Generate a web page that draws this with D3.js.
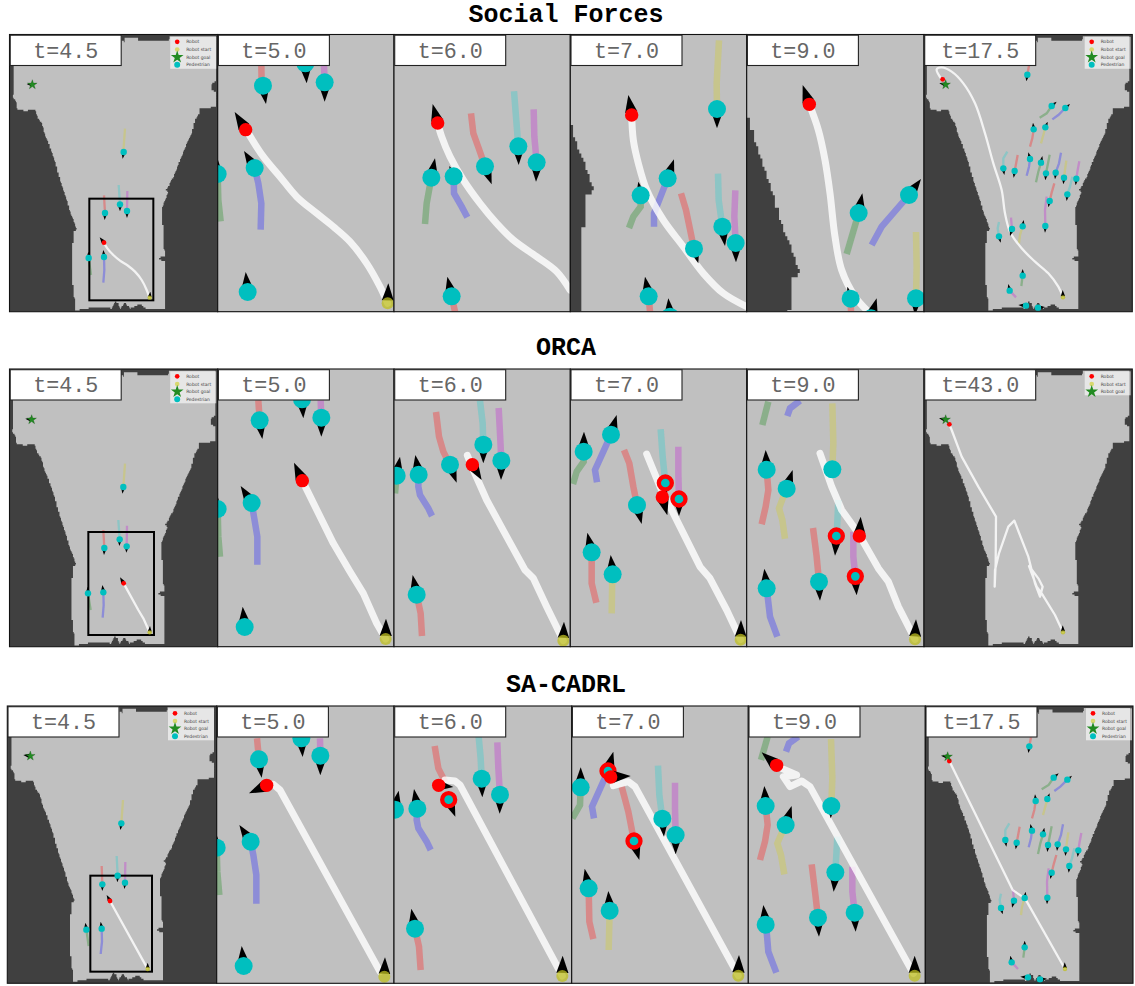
<!DOCTYPE html>
<html><head><meta charset="utf-8">
<script src="https://cdn.jsdelivr.net/npm/d3@7"></script>
<style>html,body{margin:0;padding:0;background:#fff}svg{display:block}</style>
</head><body><svg id="c" width="1135" height="986"></svg>
<script>
// ---------- labels ----------
const methodNames=["Social Forces","ORCA","SA-CADRL"];
const timeLabels=[["t=4.5","t=5.0","t=6.0","t=7.0","t=9.0","t=17.5"],["t=4.5","t=5.0","t=6.0","t=7.0","t=9.0","t=43.0"],["t=4.5","t=5.0","t=6.0","t=7.0","t=9.0","t=17.5"]];
const legendNames=["Robot","Robot start","Robot goal","Pedestrian"];
// ---------- free space outline of the map (map units) ----------
const mapOutline=[[42,103],[42,196],[40,240],[38,290],[48,305],[52,328],[75,332],[105,328],[112,350],[125,370],[130,390],[145,430],[158,465],[170,505],[180,540],[195,585],[212,640],[222,665],[231,690],[220,692],[220,720],[215,745],[215,830],[222,880],[225,932],[260,925],[300,923],[335,925],[345,905],[355,910],[360,925],[375,908],[390,925],[420,912],[440,928],[495,925],[493,850],[495,785],[478,778],[480,770],[493,768],[492,700],[487,665],[486,625],[495,600],[505,575],[495,570],[505,560],[520,530],[545,470],[560,430],[575,400],[585,360],[597,340],[600,325],[650,320],[650,275],[636,270],[636,250],[650,240],[650,108],[510,108],[505,120],[415,122],[413,112],[375,112],[372,125],[365,122],[362,103]];
// ---------- views of the map for each panel [x0,x1,y0,y1] ----------
const mapViews=[
[[28,653,103,935],[268,460,596,901],[247,439,555,860],[204,396,517,822],[172,364,426,731],[32,657,103,935]],
[[30,655,103,935],[267,464,591,900],[267,464,591,900],[267,464,591,900],[267,464,591,900],[32,657,103,935]],
[[28,656,104,936],[277,462,613,901],[277,462,613,901],[277,462,613,901],[277,462,613,901],[30,657,102,934]]];
// ---------- Social Forces ----------
const sf1Robot=[312,728,299,712],sf1Start=[449,893,451,875],sf1Goal=[97,254,80,252],sf1Box=[268,596,460,901];
const sf1Path=[[448,892],[440,870],[425,840],[405,815],[385,798],[360,782],[340,765],[322,745],[312,728]];
const sf1Peds=[[371,456,368,476],[315,639,314,660],[360,613,360,634],[381,633,381,654],[266,774,265,755],[312,771,310,750]];
const sf1Trails=[["y",[[375,386],[370,456]]],["r",[[312,586],[315,639]]],["t",[[356,555],[360,613]]],["p",[[382,573],[381,633]]],["g",[[273,825],[266,774]]],["b",[[310,848],[313,810],[312,771]]]];
const sf2Robot=[737,389,704,336],sf2Start=[1163,910,1165,850];
const sf2Path=[[1163,910],[1140,860],[1100,790],[1050,725],[1000,680],[950,640],[890,590],[840,530],[790,470],[745,400]];
const sf2Peds=[[789,257,798,312],[916,190,920,250],[974,247,974,305],[653,522,654,480],[764,504,732,453],[743,876,737,816]];
const sf2Trails=[["r",[[784,196],[785,257]]],["p",[[972,196],[974,247]]],["b",[[782,689],[784,610],[775,550],[764,504]]],["g",[[662,664],[655,600],[653,522]]]];
const sf3Robot=[143,369,128,312];
const sf3Path=[[540,870],[500,815],[440,770],[370,720],[320,670],[270,610],[220,540],[180,470],[155,410],[143,369]];
const sf3Peds=[[124,533,135,475],[191,529,178,498],[285,499,305,553],[385,439,386,495],[440,487,438,545],[185,889,172,830]];
const sf3Trails=[["g",[[105,672],[110,610],[124,533]]],["b",[[232,652],[215,620],[192,580],[191,529]]],["r",[[243,340],[250,400],[268,450],[285,499]]],["t",[[372,274],[378,350],[385,439]]],["p",[[431,328],[433,410],[440,487]]],["r",[[195,935],[185,889]]]];
const sf4Robot=[725,345,715,285];
const sf4Path=[[1070,920],[1000,880],[940,820],[880,740],[820,660],[770,570],[745,490],[730,420],[725,345]];
const sf4Peds=[[752,586,745,545],[833,535,852,478],[912,746,925,790],[997,680,1005,738],[1037,729,1038,787],[981,327,981,385],[776,889,765,830],[840,950,835,895]];
const sf4Trails=[["g",[[717,684],[730,650],[752,620],[752,586]]],["b",[[792,680],[792,640],[833,535]]],["r",[[873,580],[888,630],[912,746]]],["t",[[984,521],[986,600],[997,680]]],["p",[[1036,571],[1033,650],[1037,729]]],["y",[[987,121],[980,250],[981,327]]],["r",[[780,935],[776,889]]]];
const sf5Robot=[193,313,173,255];
const sf5Path=[[370,935],[330,890],[290,810],[270,710],[255,580],[240,480],[220,390],[193,313]];
const sf5Peds=[[341,639,352,580],[492,585,528,537],[317,896,307,860],[378,955,395,895],[513,895,510,945]];
const sf5Trails=[["g",[[305,762],[341,639]]],["b",[[380,735],[410,680],[492,585]]],["y",[[513,696],[515,800],[513,895]]],["r",[[318,935],[317,896]]]];
const sf6Robot=[593,238,590,230],sf6Start=[954,892,953,870],sf6Goal=[602,254,583,250];
const sf6Path=[[954,892],[940,860],[910,820],[870,785],[830,745],[795,695],[780,640],[770,570],[745,490],[720,400],[690,310],[655,250],[620,215],[590,202],[575,208],[590,238]];
const crowdPeds=[[847,224,844,244],[920,318,935,305],[961,324,975,312],[866,388,864,368],[901,382,908,365],[775,505,778,525],[809,513,806,533],[855,477,850,457],[888,488,892,468],[903,520,901,541],[932,518,930,538],[957,533,955,553],[994,536,992,556],[967,583,965,603],[914,603,910,622],[901,678,900,698],[762,709,767,728],[801,687,795,708],[833,679,836,660],[833,827,833,807],[794,872,790,852],[843,917,820,915],[879,923,900,921]];
const crowdTrails=[["r",[[852,197],[847,224]]],["g",[[884,353],[905,340],[920,318]]],["b",[[922,358],[940,345],[961,324]]],["r",[[855,440],[862,415],[866,388]]],["y",[[888,430],[895,405],[901,382]]],["t",[[787,455],[775,475],[775,505]]],["r",[[818,465],[809,513]]],["b",[[845,527],[852,500],[855,477]]],["g",[[873,547],[880,515],[888,488]]],["g",[[914,464],[908,495],[903,520]]],["b",[[948,458],[942,490],[932,518]]],["y",[[964,482],[960,510],[957,533]]],["p",[[1003,484],[998,510],[994,536]]],["t",[[982,530],[975,560],[967,583]]],["r",[[928,550],[920,578],[914,603]]],["p",[[905,590],[900,630],[901,678]]],["t",[[762,666],[758,685],[762,709]]],["p",[[798,653],[801,687]]],["y",[[822,730],[825,705],[833,679]]],["g",[[829,858],[833,827]]],["p",[[813,892],[794,872]]]];
// ---------- ORCA ----------
const or1Robot=[371,760,360,742],or1Start=[449,907,450,888],or1Goal=[95,269,76,266],or1Box=[265,606,462,915];
const or1Path=[[448,905],[430,865],[415,840],[371,760]];
const or1Peds=[[370,471,367,491],[313,654,312,675],[359,628,358,648],[380,649,379,668],[264,790,263,770],[310,787,307,765]];
const or1Trails=[["y",[[375,401],[370,471]]],["r",[[310,600],[313,654]]],["t",[[355,570],[359,628]]],["p",[[381,587],[380,649]]],["g",[[272,840],[264,790]]],["b",[[308,863],[311,825],[310,787]]]];
const or2Robot=[907,452,882,398],or2Start=[1157,927,1158,866];
const or2Path=[[1157,927],[1130,880],[1090,790],[1050,725],[1000,640],[907,452]];
const or2Peds=[[779,271,787,327],[906,208,910,265],[964,263,964,320],[653,537,653,500],[755,519,722,468],[734,891,728,830]];
const or2Trails=[["r",[[775,211],[779,271]]],["p",[[962,211],[964,263]]],["b",[[772,704],[772,620],[762,560],[755,519]]],["g",[[660,680],[655,620],[653,537]]]];
const or3Robot=[247,404,275,450],or3Start=[520,932,522,875];
const or3Path=[[520,932],[470,830],[430,745],[405,720],[350,620],[290,510],[250,420],[232,376]];
const or3Peds=[[180,404,200,458],[280,344,280,400],[334,392,333,450],[20,437,30,380],[86,434,76,375],[80,794,68,735]];
const or3Trails=[["r",[[138,246],[147,320],[160,365],[180,404]]],["t",[[270,212],[278,280],[280,344]]],["p",[[326,234],[330,310],[334,392]]],["b",[[126,558],[115,535],[90,495],[85,470],[86,434]]],["r",[[96,918],[92,850],[80,794]]],["g",[[15,490],[20,437]]]];
const or4Robot=[817,501,832,556],or4Start=[1052,929,1053,870];
const or4Path=[[1052,929],[1010,840],[960,745],[930,710],[870,590],[810,470],[770,372]];
const or4Peds=[[741,525,755,582],[663,314,680,255],[581,365,582,305],[605,667,592,608],[668,733,662,675]];
const or4Rings=[[826,459,826,500],[867,507,867,558]];
const or4Trails=[["r",[[702,360],[718,400],[730,470],[741,525]]],["t",[[812,298],[818,380],[826,459]]],["p",[[865,350],[865,430],[867,507]]],["g",[[549,462],[560,425],[581,395],[581,365]]],["b",[[621,457],[615,420],[663,314]]],["r",[[619,818],[605,760],[605,667]]],["y",[[665,850],[667,733]]]];
const or5Robot=[343,618,347,560],or5Start=[510,928,513,868];
const or5Path=[[510,928],[460,830],[430,755],[400,715],[340,610],[290,540],[260,470],[225,370]];
const or5Peds=[[65,419,62,360],[125,476,143,420],[262,418,262,430],[222,755,225,812],[65,775,58,716]];
const or5Rings=[[274,618,270,677],[331,739,335,796]];
const or5Trails=[["g",[[52,285],[70,215]]],["b",[[127,258],[135,235],[165,212]]],["y",[[262,220],[265,340],[262,418]]],["r",[[50,583],[62,530],[70,480],[65,419]]],["y",[[120,626],[112,570],[102,535],[115,500],[125,476]]],["t",[[280,510],[275,618]]],["r",[[204,594],[215,680],[222,755]]],["p",[[325,605],[325,680],[331,739]]],["b",[[97,920],[75,860],[68,800],[65,775]]]];
const or6Robot=[613,283,612,278],or6Start=[954,907,953,886],or6Goal=[602,269,582,265];
const or6Path=[[954,907],[930,855],[890,790],[875,770],[852,708],[880,745],[893,770],[885,800],[870,760],[850,680],[808,572],[790,590],[762,670],[750,720],[749,770],[752,700],[753,560],[700,470],[650,380],[620,300],[613,283]];
// ---------- SA-CADRL ----------
const sa1Robot=[330,708,320,690],sa1Start=[443,912,443,893],sa1Goal=[91,273,70,270],sa1Box=[271,632,456,920];
const sa1Path=[[442,910],[330,708]];
const sa1Peds=[[364,475,361,495],[307,658,307,678],[353,632,352,652],[375,653,373,672],[259,794,256,773],[305,791,302,770]];
const sa1Trails=[["y",[[369,405],[364,475]]],["r",[[305,603],[307,658]]],["t",[[350,573],[353,632]]],["p",[[376,591],[375,653]]],["g",[[266,843],[259,794]]],["b",[[302,867],[306,830],[305,791]]]];
const sa2Robot=[800,361,747,385],sa2Start=[1153,935,1155,877];
const sa2Path=[[1140,920],[840,375],[820,358],[800,358]];
const sa2Peds=[[777,283,785,338],[904,220,908,276],[961,272,961,331],[650,548,650,510],[752,530,718,480],[731,903,725,843]];
const sa2Trails=[["r",[[771,220],[777,283]]],["p",[[960,220],[961,272]]],["b",[[769,716],[769,630],[760,570],[752,530]]],["g",[[658,690],[652,620],[650,548]]]];
const sa3Robot=[146,361,190,366],sa3Start=[517,933,518,872];
const sa3Path=[[517,933],[210,360],[195,348],[165,345]];
const sa3Peds=[[275,341,277,397],[330,389,329,446],[15,434,26,377],[82,431,72,372],[75,791,64,731]];
const sa3Rings=[[176,404,196,455]];
const sa3Trails=[["r",[[134,243],[145,310],[165,350]]],["t",[[266,215],[272,280],[275,341]]],["p",[[322,232],[325,310],[330,389]]],["b",[[122,555],[110,530],[85,490],[80,465],[82,431]]],["r",[[92,915],[87,845],[75,791]]]];
const sa4Robot=[662,336,722,333],sa4Start=[1045,932,1047,870];
const sa4Path=[[1045,932],[735,365],[715,350],[670,362]];
const sa4Peds=[[817,461,822,515],[857,510,857,568],[572,367,572,307],[596,670,584,611],[659,737,655,678]];
const sa4Rings=[[654,318,670,260],[732,528,748,585]];
const sa4Trails=[["r",[[695,365],[715,440],[732,528]]],["t",[[804,302],[808,390],[817,461]]],["p",[[855,353],[855,430],[857,510]]],["g",[[547,460],[570,420],[572,367]]],["b",[[612,460],[606,425],[654,318]]],["r",[[610,822],[598,770],[596,670]]],["y",[[656,855],[659,737]]]];
const sa5Robot=[95,301,50,262],sa5Start=[509,932,509,872];
const sa5Path=[[505,925],[195,365],[170,348],[135,365],[115,335],[155,330],[110,310]];
const sa5Peds=[[62,423,58,363],[122,480,140,423],[259,423,257,460],[271,622,266,680],[219,758,222,815],[329,743,332,800],[62,779,55,720]];
const sa5Trails=[["g",[[48,285],[68,215]]],["b",[[123,260],[132,235],[160,215]]],["y",[[258,222],[262,340],[259,423]]],["r",[[45,585],[60,530],[68,480],[62,423]]],["y",[[118,628],[108,570],[97,535],[112,500],[122,480]]],["t",[[277,515],[271,622]]],["r",[[200,598],[210,680],[219,758]]],["p",[[322,605],[322,680],[329,743]]],["b",[[94,923],[70,860],[65,800],[62,779]]]];
const sa6Robot=[607,268,606,263],sa6Start=[954,892,953,872],sa6Goal=[602,255,582,252];
const sa6Path=[[954,892],[834,680],[804,660],[797,655],[607,268]];

// ---------- assemble panels ----------
const rowsData=[
[{r:sf1Robot,s:sf1Start,g:sf1Goal,b:sf1Box,path:sf1Path,peds:sf1Peds,trails:sf1Trails},
 {r:sf2Robot,s:sf2Start,path:sf2Path,peds:sf2Peds,trails:sf2Trails},
 {r:sf3Robot,path:sf3Path,peds:sf3Peds,trails:sf3Trails},
 {r:sf4Robot,path:sf4Path,peds:sf4Peds,trails:sf4Trails},
 {r:sf5Robot,path:sf5Path,peds:sf5Peds,trails:sf5Trails},
 {r:sf6Robot,s:sf6Start,g:sf6Goal,path:sf6Path,peds:crowdPeds,trails:crowdTrails}],
[{r:or1Robot,s:or1Start,g:or1Goal,b:or1Box,path:or1Path,peds:or1Peds,trails:or1Trails},
 {r:or2Robot,s:or2Start,path:or2Path,peds:or2Peds,trails:or2Trails},
 {r:or3Robot,s:or3Start,path:or3Path,peds:or3Peds,trails:or3Trails},
 {r:or4Robot,s:or4Start,path:or4Path,peds:or4Peds,rings:or4Rings,trails:or4Trails},
 {r:or5Robot,s:or5Start,path:or5Path,peds:or5Peds,rings:or5Rings,trails:or5Trails},
 {r:or6Robot,s:or6Start,g:or6Goal,path:or6Path,peds:[],trails:[],noPed:true}],
[{r:sa1Robot,s:sa1Start,g:sa1Goal,b:sa1Box,path:sa1Path,peds:sa1Peds,trails:sa1Trails},
 {r:sa2Robot,s:sa2Start,path:sa2Path,peds:sa2Peds,trails:sa2Trails},
 {r:sa3Robot,s:sa3Start,path:sa3Path,peds:sa3Peds,rings:sa3Rings,trails:sa3Trails},
 {r:sa4Robot,s:sa4Start,path:sa4Path,peds:sa4Peds,rings:sa4Rings,trails:sa4Trails},
 {r:sa5Robot,s:sa5Start,path:sa5Path,peds:sa5Peds,trails:sa5Trails},
 {r:sa6Robot,s:sa6Start,g:sa6Goal,path:sa6Path,peds:crowdPeds,trails:crowdTrails,shift:[6,20]}]];

// ---------- layout (pixels) ----------
const colEdges=[[9.5,217.7,394,570.3,746.7,924,1132.3],[9.5,217.7,394,570.3,746.7,924,1132.3],[7.3,216.7,394,571.7,748.3,925.3,1133]];
const rowTops=[34.5,369,706],rowBottoms=[311.7,646.7,983.3],cropY=[0,330,665],cropX=[0,0,390,390,745,745];
const titleY=[22,355,692];
const trailColor={r:"rgb(237,81,81)",b:"rgb(89,89,237)",g:"rgb(85,157,85)",y:"rgb(205,201,89)",t:"rgb(89,201,201)",p:"rgb(193,89,205)"};

const svg=d3.select("#c");
methodNames.forEach((n,i)=>svg.append("text").attr("x",566).attr("y",titleY[i]).attr("text-anchor","middle")
  .attr("font-family","'Liberation Mono',monospace").attr("font-weight",700).attr("font-size",25).text(n));

function snapped(pts,xs,ys){ // pixelated occupancy-grid edge
  const g=4.5,out=[];
  for(let i=0;i<pts.length;i++){const a=pts[i],b=pts[(i+1)%pts.length];
    const n=Math.max(1,Math.ceil(Math.hypot(b[0]-a[0],b[1]-a[1])/4));
    for(let k=0;k<n;k++){const t=k/n;out.push([Math.round((a[0]+(b[0]-a[0])*t)/g)*g,Math.round((a[1]+(b[1]-a[1])*t)/g)*g]);}}
  return d3.line().x(d=>xs(d[0])).y(d=>ys(d[1])).curve(d3.curveStep)(out)+"Z";
}
function arrow(x,y,tx,ty){
  const dx=tx-x,dy=ty-y,len=Math.hypot(dx,dy)||1,ux=dx/len,uy=dy/len,b=len*.15,h=len*.3;
  return `M${tx},${ty}L${x+ux*b-uy*h},${y+uy*b+ux*h}L${x+ux*b+uy*h},${y+uy*b-ux*h}Z`;
}
rowsData.forEach((row,ri)=>row.forEach((p,ci)=>{
  const L=colEdges[ri][ci],R=colEdges[ri][ci+1],T=rowTops[ri],B=rowBottoms[ri];
  const full=ci===0||ci===5, sh=p.shift||[0,0];
  const v=mapViews[ri][ci];
  const mx=d3.scaleLinear().domain([v[0],v[1]]).range([L,R]), my=d3.scaleLinear().domain([v[2],v[3]]).range([T,B]);
  const x=d3.scaleLinear().domain([(L-cropX[ci])*3-sh[0],(R-cropX[ci])*3-sh[0]]).range([L,R]);
  const y=d3.scaleLinear().domain([(T-cropY[ri])*3-sh[1],(B-cropY[ri])*3-sh[1]]).range([T,B]);
  const sz=full?{ped:3.2,rob:2.4,st:2.2,trail:2.3,path:2.3,ring:[2.3,1.5]}:{ped:9,rob:6.7,st:6,trail:6.5,path:7,ring:[6.5,4.3]};
  const id=`cp${ri}${ci}`;
  svg.append("clipPath").attr("id",id).append("rect").attr("x",L).attr("y",T).attr("width",R-L).attr("height",B-T);
  const g=svg.append("g").attr("clip-path",`url(#${id})`);
  g.append("rect").attr("x",L).attr("y",T).attr("width",R-L).attr("height",B-T).attr("fill","#404040");
  g.append("path").attr("d",snapped(mapOutline,mx,my)).attr("fill","#c0c0c0");
  const smooth=d3.line().x(d=>x(d[0])).y(d=>y(d[1])).curve(ri===0?d3.curveCatmullRom.alpha(.5):d3.curveLinear);
  const poly=d3.line().x(d=>x(d[0])).y(d=>y(d[1]));
  g.selectAll(".tr").data(p.trails).join("path").attr("d",d=>poly(d[1])).attr("fill","none")
    .attr("stroke",d=>trailColor[d[0]]).attr("stroke-opacity",.5).attr("stroke-width",sz.trail);
  if(p.b) g.append("rect").attr("x",x(p.b[0])).attr("y",y(p.b[1])).attr("width",x(p.b[2])-x(p.b[0])).attr("height",y(p.b[3])-y(p.b[1]))
    .attr("fill","none").attr("stroke","#000").attr("stroke-width",2);
  g.append("path").attr("d",smooth(p.path)).attr("fill","none").attr("stroke","#fff").attr("stroke-opacity",.8)
    .attr("stroke-width",sz.path).attr("stroke-linecap","round").attr("stroke-linejoin","round");
  const all=p.peds.concat(p.rings||[]);
  g.selectAll(".ar").data(all).join("path").attr("d",d=>arrow(x(d[0]),y(d[1]),x(d[2]),y(d[3]))).attr("fill","#000");
  g.selectAll(".pd").data(p.peds).join("circle").attr("cx",d=>x(d[0])).attr("cy",d=>y(d[1])).attr("r",sz.ped).attr("fill","#00bfbf");
  if(p.rings){
    g.selectAll(".rg").data(p.rings).join("circle").attr("cx",d=>x(d[0])).attr("cy",d=>y(d[1])).attr("r",sz.ring[0])
     .attr("fill","#00bfbf").attr("stroke","#f00").attr("stroke-width",sz.ring[1]);
  }
  if(p.s){
    g.append("path").attr("d",arrow(x(p.s[0]),y(p.s[1]),x(p.s[2]),y(p.s[3]))).attr("fill","#000");
    g.append("circle").attr("cx",x(p.s[0])).attr("cy",y(p.s[1])).attr("r",sz.st).attr("fill","#bfbf20").attr("fill-opacity",.75);
  }
  g.append("path").attr("d",arrow(x(p.r[0]),y(p.r[1]),x(p.r[2]),y(p.r[3]))).attr("fill","#000");
  g.append("circle").attr("cx",x(p.r[0])).attr("cy",y(p.r[1])).attr("r",sz.rob).attr("fill","#f00");
  if(p.g){
    g.append("path").attr("d",arrow(x(p.g[0]),y(p.g[1]),x(p.g[2]),y(p.g[3]))).attr("fill","#000");
    g.append("path").attr("transform",`translate(${x(p.g[0])},${y(p.g[1])})`).attr("d",d3.symbol(d3.symbolStar,28)()).attr("fill","#228b22").attr("stroke","#145214").attr("stroke-width",.3);
  }
  // legend
  if(full){
    const names=p.noPed?legendNames.slice(0,3):legendNames;
    g.append("rect").attr("x",L+160.7).attr("y",T+2.3).attr("width",46).attr("height",p.noPed?24:32).attr("fill","#fff").attr("fill-opacity",.6);
    const lg=g.selectAll(".lg").data(names).join("g").attr("transform",(d,i)=>`translate(${L+167.7},${T+7.3+i*7.67})`);
    lg.append("path").attr("d",(d,i)=>i===2?d3.symbol(d3.symbolStar,50)():d3.symbol(d3.symbolCircle,i===3?28:17)())
      .attr("fill",(d,i)=>["#f00","#d8d870","#228b22","#00bfbf"][i]);
    lg.append("text").attr("x",9).attr("y",1.6).attr("font-family","'DejaVu Sans',sans-serif").attr("font-size",4.5).attr("fill","#444").text(d=>d);
  }
  // frame
  svg.append("rect").attr("x",L).attr("y",T).attr("width",R-L).attr("height",B-T).attr("fill","none").attr("stroke","#111").attr("stroke-width",1.1);
  // time label
  svg.append("rect").attr("x",L+.7).attr("y",T+.7).attr("width",111).attr("height",30.3).attr("fill","#fff").attr("stroke","#222").attr("stroke-width",1.1);
  svg.append("text").attr("x",L+.7+55.5).attr("y",T+23).attr("text-anchor","middle").attr("font-family","'Liberation Mono',monospace")
    .attr("font-size",21.7).attr("fill","#666").text(timeLabels[ri][ci]);
}));
</script></body></html>
